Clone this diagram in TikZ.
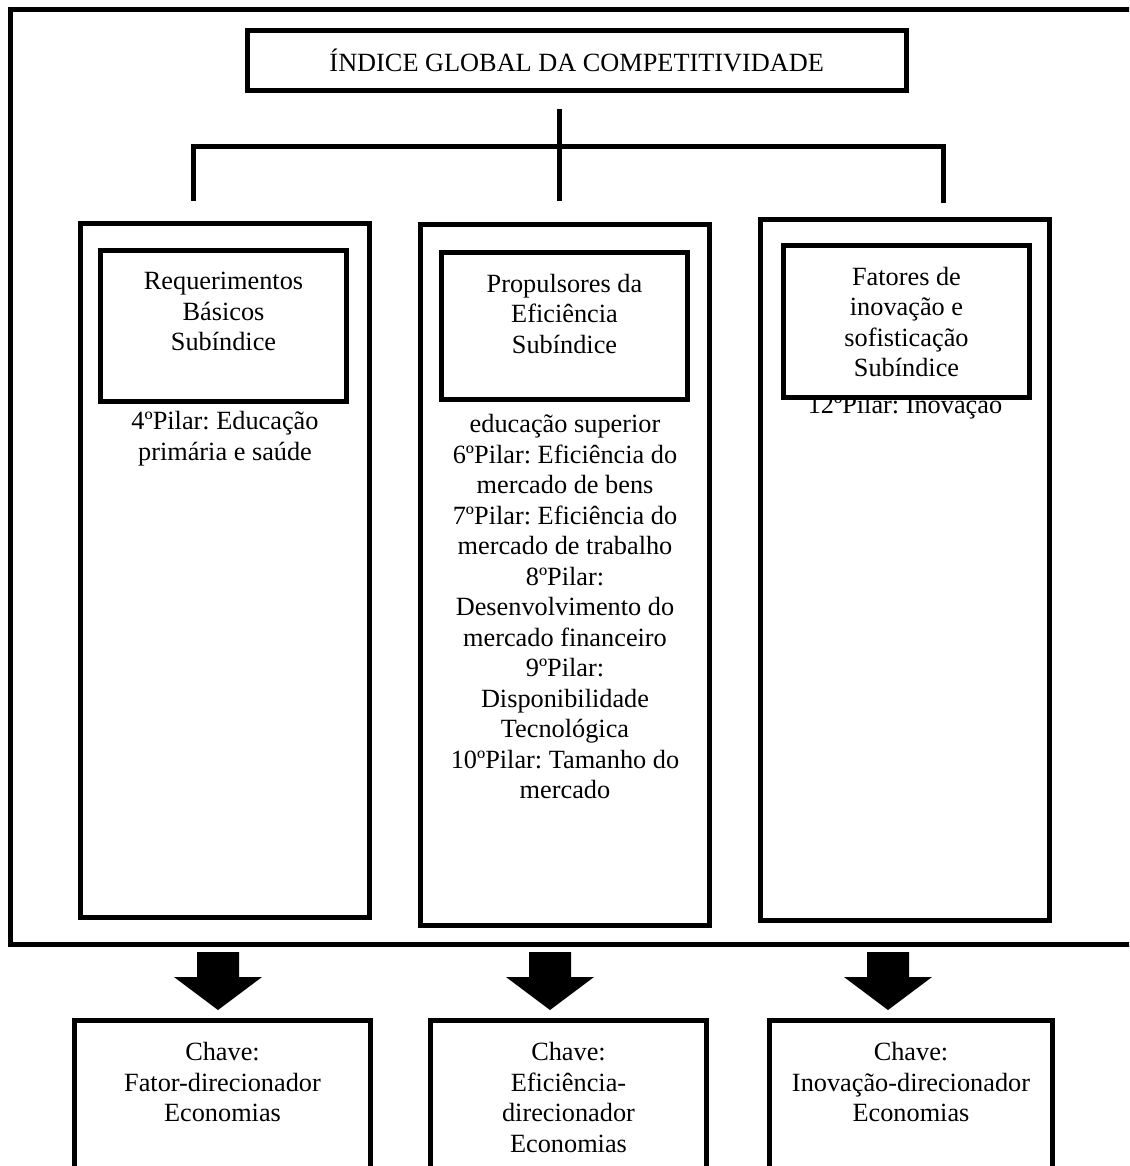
\documentclass[tikz,border=0pt]{standalone}
\usepackage{fontspec}
\setmainfont{Liberation Serif}
\usetikzlibrary{positioning}
\frenchspacing

\begin{document}
\begin{tikzpicture}[x=1pt,y=-1pt,
  t/.style={align=center,font=\fontsize{26.3}{30.5}\selectfont,inner sep=0pt},
  b/.style={draw,line width=4.5pt,inner sep=0pt},
  sb/.style={b,line width=5pt,fill=white,minimum width=246pt},
  col/.style={b,minimum width=289pt},
  kb/.style={b,minimum height=179.5pt},
  shd/.style={gray!55,line width=5pt},
  ln/.style={line width=5pt}]
\useasboundingbox (0,0) rectangle (1129,1166);
\clip (0,0) rectangle (1129,1166);
\draw[ln] (10.5,9.5) rectangle (1160,944.5);
\node[b,t,line width=5pt,minimum width=658.5pt,minimum height=59.5pt] (gci) at (576.75,60.75) {ÍNDICE GLOBAL DA COMPETITIVIDADE};
\coordinate (hub) at (559,146.5);
\coordinate (top) at (559,109);
\coordinate (dl) at (193.5,201);
\coordinate (dm) at (559,201);
\coordinate (dr) at (943,203);
\draw[shd,shift={(0,4)}] (dl) -- (dl |- hub) -- (dr |- hub) -- (dr) (hub) -- (dm);
\draw[ln] (dl) -- (dl |- hub) -- (dr |- hub) -- (dr) (top) -- (dm);
\node[col,minimum height=694pt] (c1) at (225,570.5) {};
\node[col,minimum height=701pt] (c2) at (565,575) {};
\node[col,minimum height=701pt] (c3) at (905,570) {};
\node[t,below=190pt of c1.north] (p1) {4ºPilar: Educação\\primária e saúde};
\node[t,below=192pt of c2.north] (p2) {educação superior\\6ºPilar: Eficiência do\\mercado de bens\\7ºPilar: Eficiência do\\mercado de trabalho\\8ºPilar:\\Desenvolvimento do\\mercado financeiro\\9ºPilar:\\Disponibilidade\\Tecnológica\\10ºPilar: Tamanho do\\mercado};
\node[t,below=178pt of c3.north] (p3) {12ºPilar: Inovação};
\node[sb,minimum height=151pt] (s1) at (223.5,326) {};
\node[sb,minimum height=147pt] (s2) at (564.5,326) {};
\node[sb,minimum height=152pt] (s3) at (906.5,321.5) {};
\node[t,below=24pt of s1.north] (s1t) {Requerimentos\\Básicos\\Subíndice};
\node[t,below=24pt of s2.north] (s2t) {Propulsores da\\Eficiência\\Subíndice};
\node[t,below=24pt of s3.north] (s3t) {Fatores de\\inovação e\\sofisticação\\Subíndice};
\foreach \ax in {218,550,888}
  \fill ({\ax-21},952) -- ({\ax+21},952) -- ({\ax+21},977) -- ({\ax+44},977) -- (\ax,1010) -- ({\ax-44},977) -- ({\ax-21},977) -- cycle;
\node[kb,minimum width=296pt] (k1) at (222.5,1110.25) {};
\node[kb,minimum width=276pt] (k2) at (568.5,1110.25) {};
\node[kb,minimum width=283pt] (k3) at (911,1110.25) {};
\node[t,below=24pt of k1.north] (k1t) {Chave:\\Fator-direcionador\\Economias};
\node[t,below=24pt of k2.north] (k2t) {Chave:\\Eficiência-\\direcionador\\Economias};
\node[t,below=24pt of k3.north] (k3t) {Chave:\\Inovação-direcionador\\Economias};
\end{tikzpicture}
\end{document}
